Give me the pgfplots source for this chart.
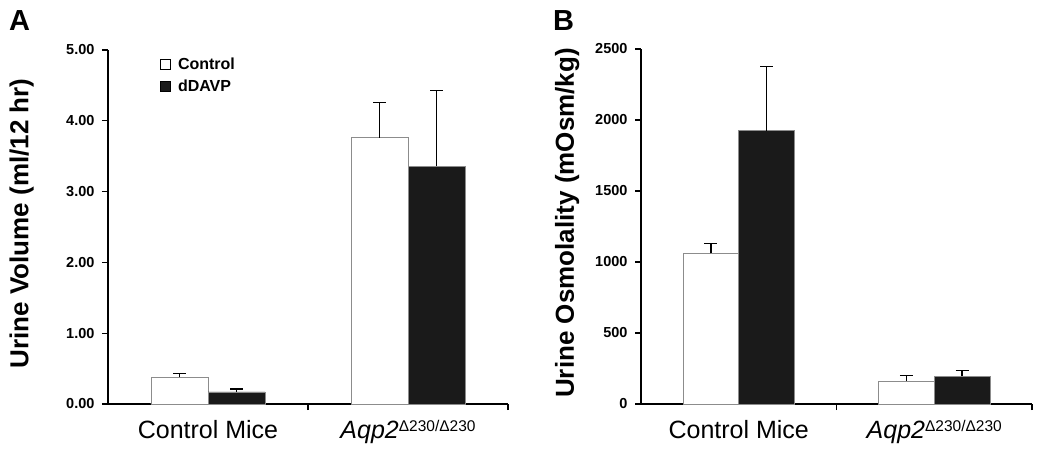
\documentclass[border=0pt]{standalone}
\usepackage{fontspec}
\setmainfont{Liberation Sans}
\usepackage{pgfplots}
\pgfplotsset{compat=1.18}
\definecolor{barblack}{HTML}{1A1A1A}
\definecolor{baredge}{HTML}{8C8C8C}

\pgfplotstableread{
x y e
0.5 0.38 0.05
1.5 3.76 0.50
}\volctrl
\pgfplotstableread{
x y e
0.5 0.17 0.04
1.5 3.36 1.07
}\volddavp
\pgfplotstableread{
x y e
0.5 1060 70
1.5 162 40
}\osmctrl
\pgfplotstableread{
x y e
0.5 1925 450
1.5 197 38
}\osmddavp

\pgfplotsset{
  panel/.style={
    scale only axis,
    axis x line*=bottom, axis y line*=left,
    axis line style={line width=1.3pt, black},
    xmin=0, xmax=2, ymin=0,
    ybar=0pt, bar width=0.285,
    xtick={1,2}, xticklabels={},
    extra x ticks={0.5,1.5},
    extra x tick labels={Control Mice, {\itshape Aqp2}\raisebox{6.8pt}{\fontsize{15.5}{15.5}\selectfont Δ230/Δ230}},
    extra x tick style={tick style={draw=none}},
    x tick label style={font=\fontsize{25}{25}\selectfont, text height=18pt, text depth=6pt, yshift=-7pt},
    tick align=outside, major tick length=6pt,
    tick style={line width=1.3pt, black},
    y tick label style={font=\fontsize{14.5}{14.5}\selectfont\bfseries, xshift=-4pt},
    /pgf/number format/assume math mode=true,
    /pgf/number format/1000 sep={},
    ylabel style={font=\fontsize{26}{26}\selectfont\bfseries, anchor=center},
    error bars/y dir=plus, error bars/y explicit,
    error bars/error bar style={line width=1.3pt, black},
    error bars/error mark options={rotate=90, mark size=6.5pt, line width=1.3pt, black},
    legend image code/.code={\draw[##1, draw=black, line width=0.8pt] (0pt,-5pt) rectangle (10pt,5pt);},
  },
  wbar/.style={fill=white, draw=baredge, line width=0.6pt},
  bbar/.style={fill=barblack, draw=baredge, line width=0.6pt},
}

\begin{document}
\begin{tikzpicture}
\path[use as bounding box] (0pt,0pt) rectangle (1050pt,453pt);
\node[anchor=base west, inner sep=0pt] at (9pt,422pt) {\fontsize{29}{29}\selectfont\bfseries A};
\node[anchor=base west, inner sep=0pt] at (553pt,422pt) {\fontsize{29}{29}\selectfont\bfseries B};

\begin{axis}[panel,
  at={(108pt,49pt)}, anchor=south west,
  width=400pt, height=354pt,
  ymax=5, ytick={0,1,2,3,4,5},
  yticklabel style={/pgf/number format/.cd, fixed, fixed zerofill, precision=2},
  ylabel={Urine Volume (ml/12 hr)},
  ylabel style={at={(axis description cs:-0.216,0.51)}},
  legend style={draw=none, fill=none, at={(axis description cs:0.13,0.985)}, anchor=north west,
    font=\fontsize{16}{16}\selectfont\bfseries, row sep=5pt, inner sep=0pt,
    /tikz/every odd column/.append style={column sep=5pt}},
  legend cell align=left,
]
\addplot[wbar] table[x=x, y=y, y error=e] {\volctrl};
\addlegendentry{Control}
\addplot[bbar] table[x=x, y=y, y error=e] {\volddavp};
\addlegendentry{dDAVP}
\end{axis}

\begin{axis}[panel,
  at={(641pt,49pt)}, anchor=south west,
  width=391pt, height=355pt,
  ymax=2500, ytick={0,500,1000,1500,2000,2500},
  ylabel={Urine Osmolality (mOsm/kg)},
  ylabel style={at={(axis description cs:-0.189,0.51)}},
]
\addplot[wbar] table[x=x, y=y, y error=e] {\osmctrl};
\addplot[bbar] table[x=x, y=y, y error=e] {\osmddavp};
\end{axis}
\end{tikzpicture}
\end{document}
